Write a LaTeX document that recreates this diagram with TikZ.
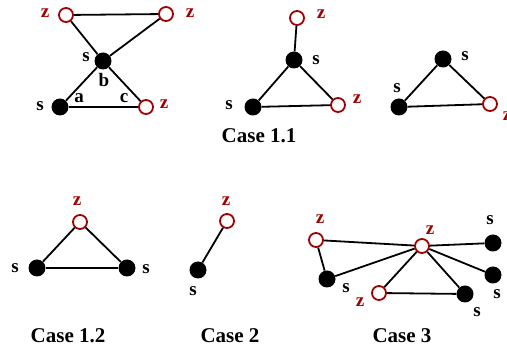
\documentclass[tikz,border=0pt]{standalone}
\usepackage{fontspec}
\setmainfont{Liberation Serif}
\definecolor{zred}{RGB}{160,0,0}
\begin{document}
\begin{tikzpicture}[x=1pt,y=-1pt,
  snode/.style={circle,fill=black,inner sep=0pt,minimum size=17pt},
  znode/.style={circle,draw=zred,fill=white,line width=1.8pt,inner sep=0pt,minimum size=14pt},
  edge/.style={line width=1.8pt,black},
  slab/.style={font=\bfseries\fontsize{19}{19}\selectfont,text=black,inner sep=0pt},
  zlab/.style={font=\bfseries\fontsize{19}{19}\selectfont,text=zred,inner sep=0pt},
  caselab/.style={font=\bfseries\fontsize{21}{21}\selectfont,inner sep=0pt}]
\useasboundingbox (0,0) rectangle (507,352);
% ---- Case 1.1 (left graph)
\node[znode] (a1) at (66,15) {};
\node[znode] (a2) at (166,14) {};
\node[snode] (a3) at (103,61) {};
\node[snode] (a4) at (60,107) {};
\node[znode] (a5) at (146,107) {};
\draw[edge] (a1) -- (a2);
\draw[edge] (a1) -- (a3);
\draw[edge] (a2) -- (a3);
\draw[edge] (a3) -- (a4);
\draw[edge] (a3) -- (a5);
\draw[edge] (a4) -- (a5);
\node[zlab] (la1) at (45,13) {z};
\node[zlab] (la2) at (190,13) {z};
\node[slab] (la3) at (86,57) {s};
\node[slab] (lab) at (104,80) {b};
\node[slab] (la4) at (40,106) {s};
\node[slab] (laa) at (79,98) {a};
\node[slab] (lac) at (124,98) {c};
\node[zlab] (la5) at (164,104) {z};
% ---- Case 1.1 (middle graph)
\node[znode] (b1) at (297,18) {};
\node[snode] (b2) at (294,60) {};
\node[snode] (b3) at (253,107) {};
\node[znode] (b4) at (338,105) {};
\draw[edge] (b1) -- (b2);
\draw[edge] (b2) -- (b3);
\draw[edge] (b2) -- (b4);
\draw[edge] (b3) -- (b4);
\node[zlab] (lb1) at (321,14) {z};
\node[slab] (lb2) at (316,60) {s};
\node[slab] (lb3) at (229,105) {s};
\node[zlab] (lb4) at (357,99) {z};
\node[caselab] (case11) at (259,136) {Case 1.1};
% ---- Case 1.1 (right graph)
\node[snode] (c1) at (443,59) {};
\node[snode] (c2) at (399,107) {};
\node[znode] (c3) at (490,104) {};
\draw[edge] (c1) -- (c2);
\draw[edge] (c1) -- (c3);
\draw[edge] (c2) -- (c3);
\node[slab] (lc1) at (465,56) {s};
\node[slab] (lc2) at (397,88) {s};
\node[zlab] (lc3) at (507,116) {z};
% ---- Case 1.2
\node[znode] (d1) at (80,222) {};
\node[snode] (d2) at (37,268) {};
\node[snode] (d3) at (127,268) {};
\draw[edge] (d1) -- (d2);
\draw[edge] (d1) -- (d3);
\draw[edge] (d2) -- (d3);
\node[zlab] (ld1) at (77,201) {z};
\node[slab] (ld2) at (15,268) {s};
\node[slab] (ld3) at (146,269) {s};
\node[caselab] (case12) at (68,336) {Case 1.2};
% ---- Case 2
\node[znode] (e1) at (227,221) {};
\node[snode] (e2) at (198,270) {};
\draw[edge] (e1) -- (e2);
\node[zlab] (le1) at (226,201) {z};
\node[slab] (le2) at (193,291) {s};
\node[caselab] (case2) at (230,336) {Case 2};
% ---- Case 3
\node[znode] (f1) at (316,240) {};
\node[snode] (f2) at (327,279) {};
\node[znode] (f3) at (422,246) {};
\node[snode] (f4) at (493,243) {};
\node[snode] (f5) at (493,275) {};
\node[snode] (f6) at (465,294) {};
\node[znode] (f7) at (379,293) {};
\draw[edge] (f1) -- (f3);
\draw[edge] (f1) -- (f2);
\draw[edge] (f2) -- (f3);
\draw[edge] (f3) -- (f4);
\draw[edge] (f3) -- (f5);
\draw[edge] (f3) -- (f6);
\draw[edge] (f3) -- (f7);
\draw[edge] (f7) -- (f6);
\node[zlab] (lf1) at (320,219) {z};
\node[slab] (lf2) at (346,288) {s};
\node[zlab] (lf3) at (430,230) {z};
\node[slab] (lf4) at (490,220) {s};
\node[slab] (lf5) at (497,294) {s};
\node[slab] (lf6) at (477,312) {s};
\node[zlab] (lf7) at (360,302) {z};
\node[caselab] (case3) at (402,336) {Case 3};
\end{tikzpicture}
\end{document}
